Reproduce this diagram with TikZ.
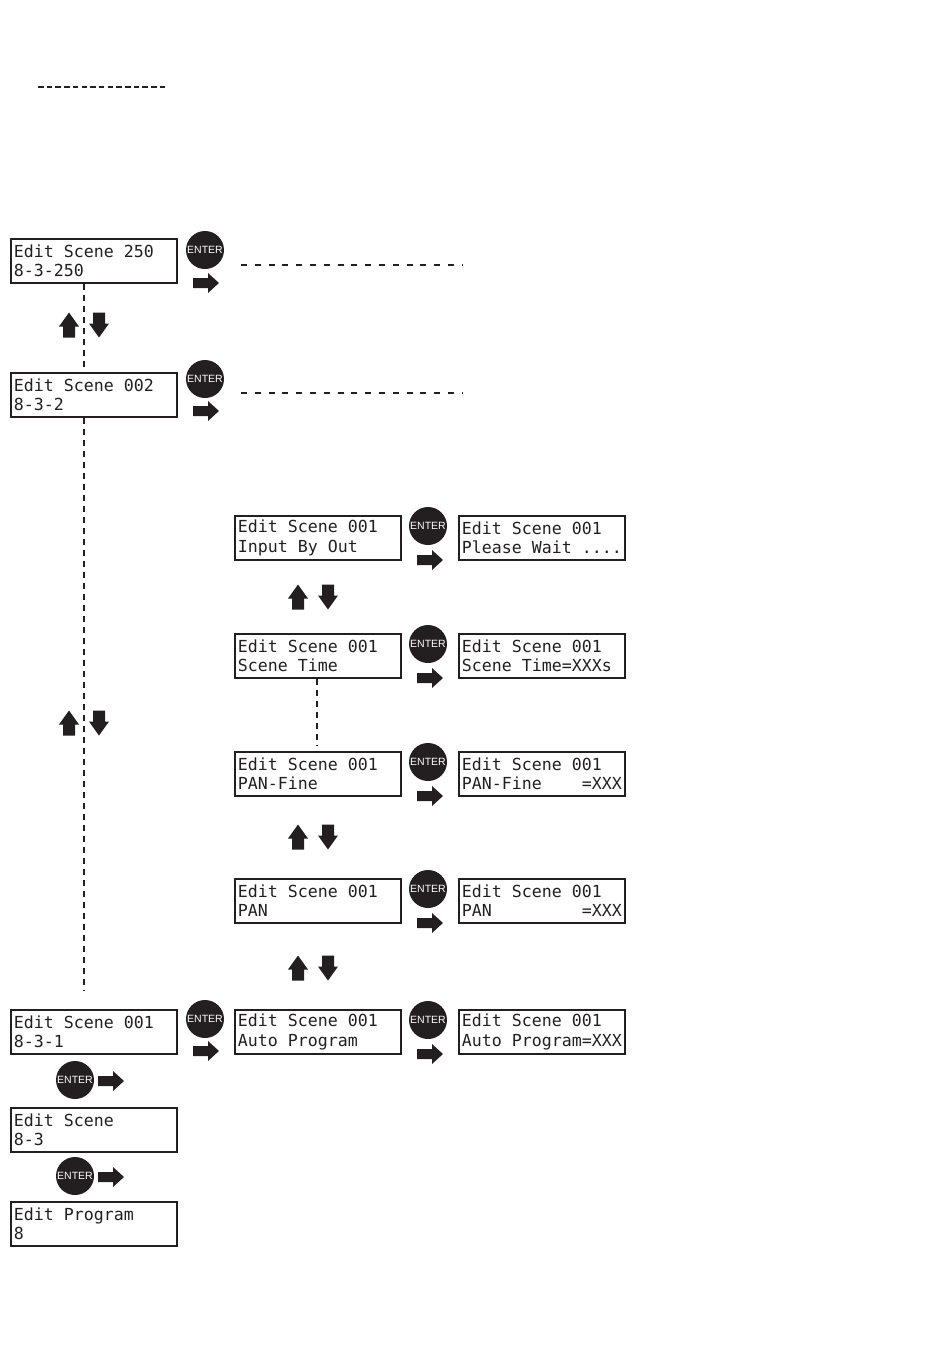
\documentclass[tikz,border=0pt]{standalone}
\usepackage{fontspec}
\newfontfamily\lcdfont{DejaVu Sans Mono}
\newfontfamily\btnfont{Liberation Sans}
\definecolor{ink}{HTML}{231F20}
\newcommand\ls{\hphantom{0}}
\newcommand\lcdset{\lcdfont\fontsize{16.6pt}{19.3pt}\selectfont}
\begin{document}
\begin{tikzpicture}[x=1pt,y=-1pt,
  lcd/.style={draw=ink, line width=1.8pt, anchor=north west, minimum width=166pt, minimum height=44pt,
    text width=160pt, inner xsep=3pt, inner ysep=0pt, align=left,
    font=\lcdset, text=ink},
  enterbtn/.style={circle, fill=ink, minimum size=38pt, inner sep=0pt, text=white,
    font=\btnfont\fontsize{10.5pt}{11pt}\selectfont},
  dline/.style={draw=ink, line width=2pt, dash pattern=on 6pt off 7.8pt},
  vline/.style={draw=ink, line width=2pt, dash pattern=on 6pt off 5pt},
  rarrow/.pic={\fill[ink] (-13,-5) -- (2,-5) -- (2,-10) -- (13,0) -- (2,10) -- (2,5) -- (-13,5) -- cycle;},
  uarrow/.pic={\fill[ink] (-6,12.5) -- (-6,1.5) -- (-10,1.5) -- (0,-12.5) -- (10,1.5) -- (6,1.5) -- (6,12.5) -- cycle;},
  darrow/.pic={\fill[ink] (-6,-12.5) -- (-6,-1.5) -- (-10,-1.5) -- (0,12.5) -- (10,-1.5) -- (6,-1.5) -- (6,-12.5) -- cycle;}
]
\useasboundingbox (0,0) rectangle (950,1369);

% top dashed rule
\coordinate (t1) at (38,87);
\coordinate (t2) at (168,87);
\draw[draw=ink, line width=1.7pt, dash pattern=on 5.5pt off 3.2pt] (t1) -- (t2);

% left column
\node[lcd] (s250) at (10,238) {\mbox{Edit\ls Scene\ls 250}\\\mbox{8-3-250}};
\node[lcd] (s002) at (10,372) {\mbox{Edit\ls Scene\ls 002}\\\mbox{8-3-2}};
\node[lcd] (s001) at (10,1009) {\mbox{Edit\ls Scene\ls 001}\\\mbox{8-3-1}};
\node[lcd] (sc) at (10,1107) {\mbox{Edit\ls Scene}\\\mbox{8-3}};
\node[lcd] (prog) at (10,1201) {\mbox{Edit\ls Program}\\\mbox{8}};

\node[enterbtn] (e250) at (205,250) {ENTER};
\pic at (206,283) {rarrow};
\node[enterbtn] (e002) at (205,379) {ENTER};
\pic at (206,411) {rarrow};
\node[enterbtn] (e001) at (205,1019) {ENTER};
\pic at (206,1051) {rarrow};

\node[enterbtn] (eb1) at (75,1080) {ENTER};
\pic at (111,1081) {rarrow};
\node[enterbtn] (eb2) at (75,1176) {ENTER};
\pic at (111,1177) {rarrow};

% dashed leaders
\coordinate (d1a) at (241,265);
\coordinate (d1b) at (462,265);
\draw[dline] (d1a) -- (d1b);
\coordinate (d2a) at (241,393);
\coordinate (d2b) at (462,393);
\draw[dline] (d2a) -- (d2b);

% vertical dashed line left
\coordinate (xl) at (84,0);
\coordinate (xm) at (317,0);
\draw[vline] (s250.south -| xl) -- (s002.north -| xl);
\coordinate (vend) at (84,990);
\draw[vline] (s002.south -| xl) -- (vend);

\pic at (69,325) {uarrow};
\pic at (99,325) {darrow};
\pic at (69,723) {uarrow};
\pic at (99,723) {darrow};

% middle column
\node[lcd] (m1) at (234,515) {\mbox{Edit\ls Scene\ls 001}\\\mbox{Input\ls By\ls Out}};
\node[lcd] (m2) at (234,633) {\mbox{Edit\ls Scene\ls 001}\\\mbox{Scene\ls Time}};
\node[lcd] (m3) at (234,751) {\mbox{Edit\ls Scene\ls 001}\\\mbox{PAN-Fine}};
\node[lcd] (m4) at (234,878) {\mbox{Edit\ls Scene\ls 001}\\\mbox{PAN}};
\node[lcd] (m5) at (234,1009) {\mbox{Edit\ls Scene\ls 001}\\\mbox{Auto\ls Program}};

% right column
\node[lcd] (r1) at (458,515) {\mbox{Edit\ls Scene\ls 001}\\\mbox{Please\ls Wait\ls ....}};
\node[lcd] (r2) at (458,633) {\mbox{Edit\ls Scene\ls 001}\\\mbox{Scene\ls Time=XXXs}};
\node[lcd] (r3) at (458,751) {\mbox{Edit\ls Scene\ls 001}\\\mbox{PAN-Fine\ls\ls\ls\ls =XXX}};
\node[lcd] (r4) at (458,878) {\mbox{Edit\ls Scene\ls 001}\\\mbox{PAN\ls\ls\ls\ls\ls\ls\ls\ls\ls =XXX}};
\node[lcd] (r5) at (458,1009) {\mbox{Edit\ls Scene\ls 001}\\\mbox{Auto\ls Program=XXX}};

\foreach \y/\n in {515/1,633/2,751/3,878/4,1009/5}{
  \node[enterbtn] (me\n) at (428,\y+11) {ENTER};
  \pic at (430,\y+45) {rarrow};
}

\coordinate (vmend) at (317,745);
\draw[vline] (m2.south -| xm) -- (vmend);

\pic at (298,597) {uarrow};
\pic at (328,597) {darrow};
\pic at (298,837) {uarrow};
\pic at (328,837) {darrow};
\pic at (298,968) {uarrow};
\pic at (328,968) {darrow};
\end{tikzpicture}
\end{document}
